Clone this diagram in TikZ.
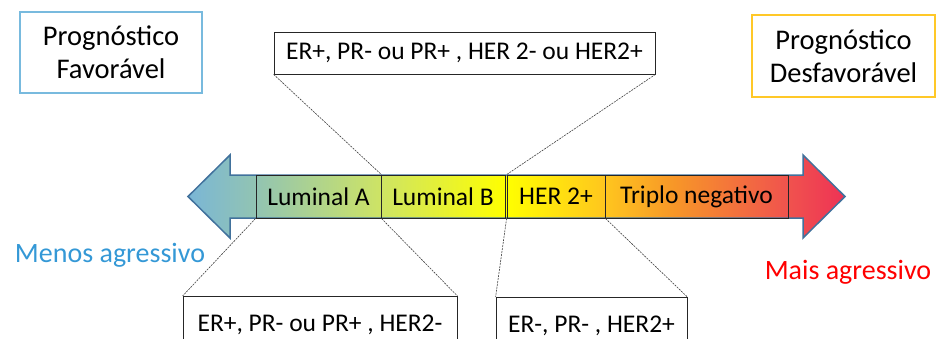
\documentclass[tikz,border=0pt]{standalone}
\usepackage{fontspec}
\setmainfont{Carlito}
\definecolor{cBlue}{RGB}{122,182,214}
\definecolor{cTeal}{RGB}{146,196,178}
\definecolor{cLime}{RGB}{206,228,100}
\definecolor{cYel}{RGB}{255,255,0}
\definecolor{cGold}{RGB}{255,198,30}
\definecolor{cOrange}{RGB}{247,150,40}
\definecolor{cRed}{RGB}{240,82,78}
\definecolor{cPink}{RGB}{238,50,85}
\definecolor{arrowEdge}{RGB}{65,113,156}
\definecolor{favBlue}{RGB}{120,186,222}
\definecolor{desGold}{RGB}{255,200,40}
\definecolor{menosBlue}{RGB}{52,152,214}
\pgfdeclarehorizontalshading{spectrum}{100bp}{color(0bp)=(cBlue); color(25bp)=(cBlue); color(30.2bp)=(cTeal); color(39.7bp)=(cLime); color(49.2bp)=(cYel); color(56.7bp)=(cGold); color(62bp)=(cOrange); color(70.7bp)=(cRed); color(75bp)=(cPink); color(100bp)=(cPink)}
\tikzset{
  seg/.style={draw=black!85, line width=0.8pt, minimum height=43pt, inner sep=0pt, font=\fontsize{25.5}{29}\selectfont},
  infobox/.style={draw=black!85, line width=0.8pt, inner sep=0pt, font=\fontsize{25.5}{29}\selectfont},
  progbox/.style={line width=1.3pt, align=center, inner sep=0pt, font=\fontsize{28.5}{33}\selectfont},
  link/.style={draw=black!75, line width=0.6pt, dash pattern=on 2pt off 1pt},
  aggr/.style={font=\fontsize{28}{32}\selectfont, inner sep=0pt}
}
\begin{document}
\begin{tikzpicture}[x=1pt,y=-1pt]
\clip (0,0) rectangle (936,338);
\useasboundingbox (0,0) rectangle (936,338);
% big double arrow
\path[shading=spectrum, draw=arrowEdge, line width=1.5pt, line join=miter]
  (188,196.5) -- (230,155) -- (230,175) -- (803,175) -- (803,155) -- (845,196.5)
  -- (803,238) -- (803,218) -- (230,218) -- (230,238) -- cycle;
% segments
\node[seg, minimum width=125pt] (lumA) at (318.5,196.5) {Luminal A};
\node[seg, minimum width=124pt] (lumB) at (443,196.5) {Luminal B};
\node[seg, minimum width=98pt] (her) at (556,196.5) {HER 2+};
\node[seg, minimum width=183pt] (tri) at (696.5,196.5) {Triplo negativo};
% prognosis boxes
\node[progbox, draw=favBlue, minimum width=182pt, minimum height=81pt] (fav) at (111,52.5) {Prognóstico\\Favorável};
\node[progbox, draw=desGold, minimum width=183pt, minimum height=82pt] (des) at (843.5,56) {Prognóstico\\Desfavorável};
% info boxes
\node[infobox, minimum width=381pt, minimum height=42pt] (tb) at (464.5,53) {ER+, PR- ou PR+ , HER 2- ou HER2+};
\node[infobox, anchor=north, minimum width=274pt, minimum height=56pt] (bl) at (320,296) {ER+, PR- ou PR+ , HER2-};
\node[infobox, anchor=north, minimum width=191pt, minimum height=56pt] (br) at (591.5,297) {ER-, PR- , HER2+};
% connectors
\draw[link] (tb.south west) -- (lumA.north east);
\draw[link] (tb.south east) -- (her.north west);
\draw[link] (lumA.south west) -- (bl.north west);
\draw[link] (lumA.south east) -- (bl.north east);
\draw[link] (her.south west) -- (br.north west);
\draw[link] (her.south east) -- (br.north east);
% labels
\node[aggr, text=menosBlue] (menos) at (110,255) {Menos agressivo};
\node[aggr, text=red] (mais) at (848,272) {Mais agressivo};
\end{tikzpicture}
\end{document}
